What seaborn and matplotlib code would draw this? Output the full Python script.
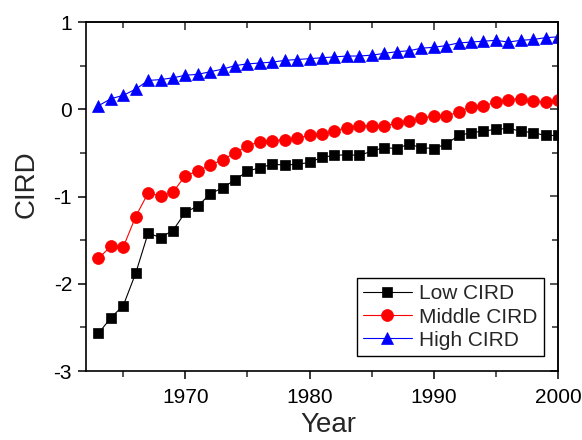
import numpy as np
import pandas as pd
import matplotlib
matplotlib.use("Agg")
import matplotlib.pyplot as plt
from matplotlib.ticker import MultipleLocator
import seaborn as sns

years = list(range(1963, 2001))

low_cird = [-2.57, -2.39, -2.25, -1.88, -1.42, -1.47, -1.39, -1.18, -1.11, -0.97,
            -0.90, -0.81, -0.71, -0.67, -0.63, -0.64, -0.63, -0.61, -0.55, -0.53,
            -0.52, -0.53, -0.48, -0.44, -0.45, -0.40, -0.44, -0.45, -0.40, -0.30,
            -0.27, -0.25, -0.23, -0.22, -0.25, -0.27, -0.30, -0.30]

middle_cird = [-1.71, -1.57, -1.58, -1.23, -0.96, -0.99, -0.95, -0.76, -0.71, -0.64,
               -0.58, -0.50, -0.42, -0.37, -0.36, -0.35, -0.33, -0.30, -0.28, -0.25,
               -0.21, -0.19, -0.19, -0.19, -0.16, -0.13, -0.10, -0.08, -0.08, -0.03,
               0.03, 0.04, 0.08, 0.11, 0.12, 0.09, 0.08, 0.11]

high_cird = [0.04, 0.12, 0.16, 0.23, 0.33, 0.34, 0.36, 0.39, 0.40, 0.43,
             0.46, 0.50, 0.52, 0.53, 0.54, 0.56, 0.57, 0.58, 0.59, 0.60,
             0.61, 0.61, 0.62, 0.64, 0.66, 0.67, 0.70, 0.71, 0.73, 0.76,
             0.77, 0.78, 0.79, 0.77, 0.79, 0.80, 0.82, 0.83]

series_names = ["Low CIRD", "Middle CIRD", "High CIRD"]
series_colors = ["#000000", "#FF0000", "#0000FF"]
series_markers = ["s", "o", "^"]
series_msize = [7.3, 8.6, 9.0]

x_ticks = [1970, 1980, 1990, 2000]
y_ticks = [-3, -2, -1, 0, 1]

sns.set_style("ticks")
plt.rcParams["font.family"] = ["Liberation Sans", "DejaVu Sans"]

fig = plt.figure(figsize=(5.82, 4.40), dpi=100)
ax = fig.add_axes([86 / 582, 1 - 371 / 440, (558 - 86) / 582, (371 - 22) / 440])

for name, vals, col, mk, ms in zip(series_names, [low_cird, middle_cird, high_cird],
                                   series_colors, series_markers, series_msize):
    df = pd.DataFrame({"Year": years, "CIRD": vals})
    sns.lineplot(data=df, x="Year", y="CIRD", ax=ax, color=col, marker=mk,
                 markersize=ms, markeredgecolor=col, markeredgewidth=0.5,
                 linewidth=0.8, label=name)

ax.set_xlim(1962, 2000)
ax.set_ylim(-3, 1)
ax.set_xticks(x_ticks)
ax.set_yticks(y_ticks)
ax.set_yticklabels([str(v) for v in y_ticks])
ax.xaxis.set_minor_locator(MultipleLocator(5))
ax.yaxis.set_minor_locator(MultipleLocator(0.5))
ax.tick_params(which="major", direction="out", length=6, width=1.1, labelsize=15,
               colors="black", pad=4)
ax.tick_params(axis="x", which="major", pad=6)
ax.tick_params(which="minor", direction="out", length=4, width=1.1)

for sp in ax.spines.values():
    sp.set_visible(True)
    sp.set_linewidth(1.2)
    sp.set_color("black")

# inward ticks on top and right
top = ax.secondary_xaxis("top")
top.set_xticks(x_ticks)
top.xaxis.set_minor_locator(MultipleLocator(5))
top.tick_params(which="major", direction="in", length=6, width=1.1, labeltop=False)
top.tick_params(which="minor", direction="in", length=4, width=1.1)
top.spines["top"].set_linewidth(1.2)
right = ax.secondary_yaxis("right")
right.set_yticks(y_ticks)
right.yaxis.set_minor_locator(MultipleLocator(0.5))
right.tick_params(which="major", direction="in", length=6, width=1.1, labelright=False)
right.tick_params(which="minor", direction="in", length=4, width=1.1)
right.spines["right"].set_linewidth(1.2)

ax.set_xlabel("Year", fontsize=20)
ax.set_ylabel("CIRD", fontsize=20)
ax.xaxis.set_label_coords(0.513, -0.118)
ax.yaxis.set_label_coords(-0.098, 0.536)

leg = ax.legend(loc="lower right", bbox_to_anchor=(0.970, 0.043), fontsize=15,
                frameon=True, fancybox=False, edgecolor="black", framealpha=1,
                handlelength=2.35, handletextpad=0.35, labelspacing=0.2,
                borderpad=0.3, borderaxespad=0)
leg.get_frame().set_linewidth(1.0)

fig.savefig("out.png", dpi=100)
